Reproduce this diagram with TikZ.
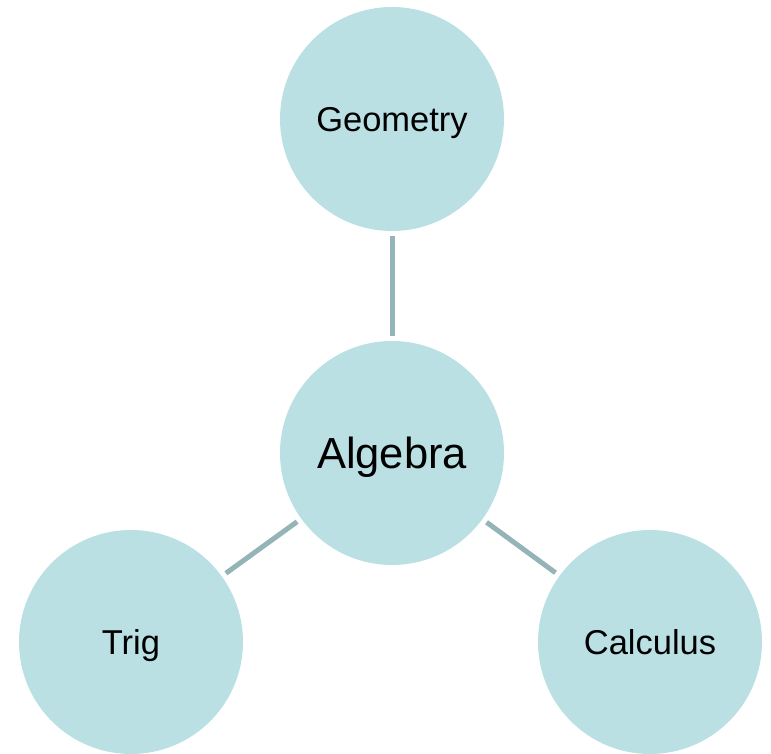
\documentclass[tikz,border=0pt]{standalone}
\usepackage{fontspec}
\setmainfont{Liberation Sans}
\definecolor{bubble}{RGB}{186,224,228}
\definecolor{link}{RGB}{148,180,184}
\definecolor{ink}{RGB}{0,0,0}
\tikzset{
  topic/.style={circle,fill=bubble,draw=none,minimum size=224pt,inner sep=0pt,text=ink,
    text height=24.7pt,text depth=0pt,font=\fontsize{34.5}{40}\selectfont},
  hub/.style={topic,text height=31.1pt,font=\fontsize{43.5}{50}\selectfont},
  link/.style={draw=link,line width=5pt,shorten <=5pt,shorten >=5pt}
}
\begin{document}
\begin{tikzpicture}[x=1pt,y=1pt]
\useasboundingbox (0,0) rectangle (771,754);
\node[topic] (geometry) at (392,635) {Geometry};
\node[hub] (algebra) at (392,301) {Algebra};
\node[topic] (trig) at (131,112) {Trig};
\node[topic] (calculus) at (650,112) {Calculus};
\draw[link] (geometry) -- (algebra);
\draw[link] (algebra) -- (trig);
\draw[link] (algebra) -- (calculus);
\end{tikzpicture}
\end{document}
